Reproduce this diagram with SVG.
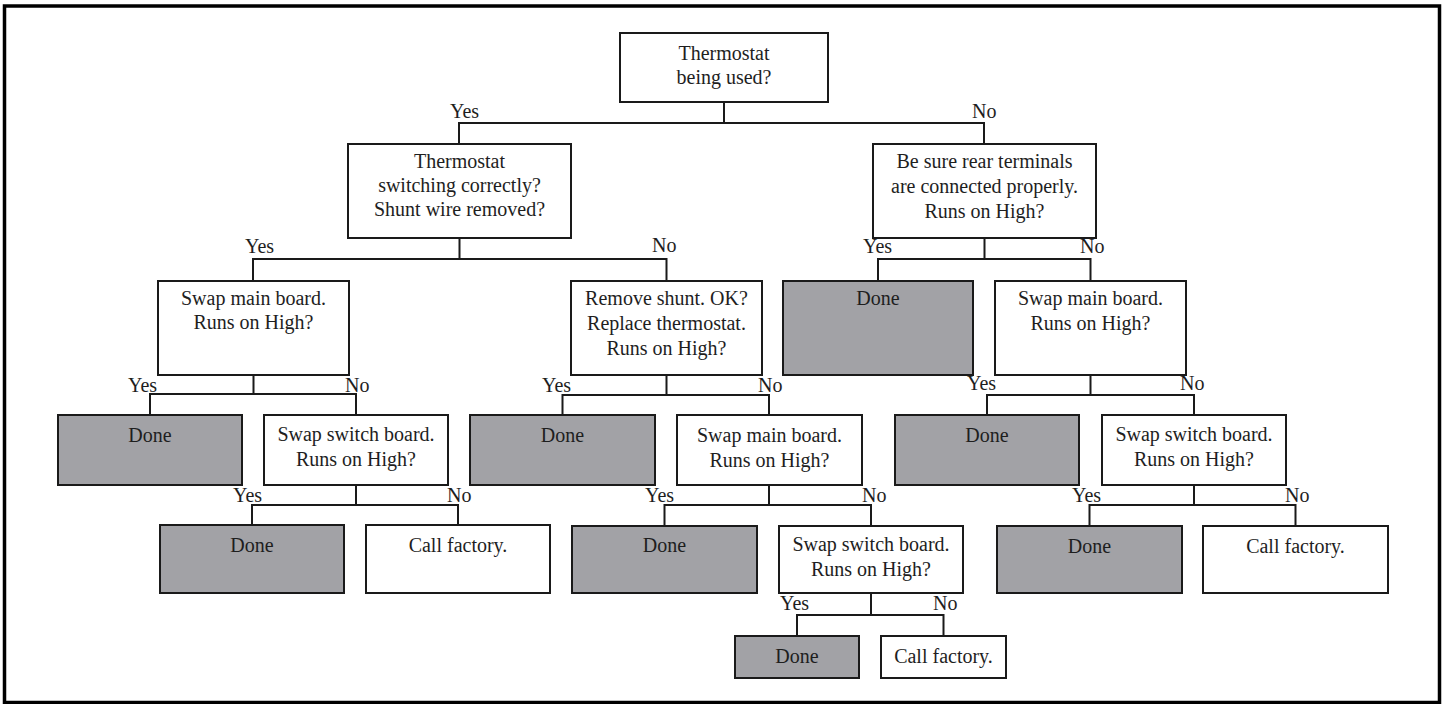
<svg xmlns="http://www.w3.org/2000/svg" width="1445" height="704" viewBox="0 0 1445 704">
<style>
.frame{fill:#fff;stroke:#000;stroke-width:3.5}
.box{fill:#fff;stroke:#1a1a1a;stroke-width:2}
.done{fill:#a2a2a6;stroke:#1a1a1a;stroke-width:2}
.t{font-family:"Liberation Serif","DejaVu Serif",serif;font-size:20px;fill:#1e1e1e;text-anchor:middle}
.lbl{font-family:"Liberation Serif","DejaVu Serif",serif;font-size:20px;fill:#1e1e1e}
.c{fill:none;stroke:#1a1a1a;stroke-width:2}
</style>
<rect class="frame" x="4.5" y="6" width="1435" height="696.5"/>
<g id="connectors">
<path class="c" d="M724 102V123M459 144V123H984V144"/>
<path class="c" d="M459.5 238V259M253 281V259H666.5V281"/>
<path class="c" d="M984.5 238V259M878 281V259H1090.5V281"/>
<path class="c" d="M253.5 375V394M150 415V394H356V415"/>
<path class="c" d="M666.5 375V395M562.5 415V395H769V415"/>
<path class="c" d="M1090.5 375V395M987 415V395H1194V415"/>
<path class="c" d="M356 485V505M252 525V505H458V525"/>
<path class="c" d="M769 485V505M664.5 526V505H871V526"/>
<path class="c" d="M1194 485V505M1089.5 526V505H1295.5V526"/>
<path class="c" d="M871 593V615M797 636V615H943.5V636"/>
</g>
<g id="labels">
<text class="lbl" x="450" y="118">Yes</text>
<text class="lbl" x="972" y="118">No</text>
<text class="lbl" x="245" y="253">Yes</text>
<text class="lbl" x="652" y="252">No</text>
<text class="lbl" x="863" y="253">Yes</text>
<text class="lbl" x="1080" y="253">No</text>
<text class="lbl" x="128" y="392">Yes</text>
<text class="lbl" x="345" y="392">No</text>
<text class="lbl" x="542" y="392">Yes</text>
<text class="lbl" x="758" y="392">No</text>
<text class="lbl" x="967" y="390">Yes</text>
<text class="lbl" x="1180" y="390">No</text>
<text class="lbl" x="233" y="502">Yes</text>
<text class="lbl" x="447" y="502">No</text>
<text class="lbl" x="645" y="502">Yes</text>
<text class="lbl" x="862" y="502">No</text>
<text class="lbl" x="1072" y="502">Yes</text>
<text class="lbl" x="1285" y="502">No</text>
<text class="lbl" x="780" y="610">Yes</text>
<text class="lbl" x="933" y="610">No</text>
</g>
<g id="n-top"><rect class="box" x="620" y="33" width="208" height="69"/><text class="t" x="724" y="60">Thermostat</text><text class="t" x="724" y="84">being used?</text></g>
<g id="n-switching"><rect class="box" x="348" y="144" width="223" height="94"/><text class="t" x="459.5" y="168">Thermostat</text><text class="t" x="459.5" y="192">switching correctly?</text><text class="t" x="459.5" y="216">Shunt wire removed?</text></g>
<g id="n-besure"><rect class="box" x="873" y="144" width="223" height="94"/><text class="t" x="984.5" y="168">Be sure rear terminals</text><text class="t" x="984.5" y="193">are connected properly.</text><text class="t" x="984.5" y="218">Runs on High?</text></g>
<g id="n-swapmain-l"><rect class="box" x="158" y="281" width="191" height="94"/><text class="t" x="253.5" y="305">Swap main board.</text><text class="t" x="253.5" y="329">Runs on High?</text></g>
<g id="n-removeshunt"><rect class="box" x="571" y="281" width="191" height="94"/><text class="t" x="666.5" y="305">Remove shunt. OK?</text><text class="t" x="666.5" y="330">Replace thermostat.</text><text class="t" x="666.5" y="355">Runs on High?</text></g>
<g id="n-done-r1"><rect class="done" x="783" y="281" width="190" height="94"/><text class="t" x="878" y="305">Done</text></g>
<g id="n-swapmain-r"><rect class="box" x="995" y="281" width="191" height="94"/><text class="t" x="1090.5" y="305">Swap main board.</text><text class="t" x="1090.5" y="330">Runs on High?</text></g>
<g id="n-done-l1"><rect class="done" x="58" y="415" width="184" height="70"/><text class="t" x="150" y="442">Done</text></g>
<g id="n-swapswitch-l"><rect class="box" x="264" y="415" width="184" height="70"/><text class="t" x="356" y="441">Swap switch board.</text><text class="t" x="356" y="466">Runs on High?</text></g>
<g id="n-done-m1"><rect class="done" x="470" y="415" width="185" height="70"/><text class="t" x="562.5" y="442">Done</text></g>
<g id="n-swapmain-m"><rect class="box" x="677" y="415" width="185" height="70"/><text class="t" x="769.5" y="442">Swap main board.</text><text class="t" x="769.5" y="467">Runs on High?</text></g>
<g id="n-done-r2"><rect class="done" x="895" y="415" width="184" height="70"/><text class="t" x="987" y="442">Done</text></g>
<g id="n-swapswitch-r"><rect class="box" x="1102" y="415" width="184" height="70"/><text class="t" x="1194" y="441">Swap switch board.</text><text class="t" x="1194" y="466">Runs on High?</text></g>
<g id="n-done-l2"><rect class="done" x="160" y="525" width="184" height="68"/><text class="t" x="252" y="552">Done</text></g>
<g id="n-call-l"><rect class="box" x="366" y="525" width="184" height="68"/><text class="t" x="458" y="552">Call factory.</text></g>
<g id="n-done-m2"><rect class="done" x="572" y="526" width="185" height="67"/><text class="t" x="664.5" y="552">Done</text></g>
<g id="n-swapswitch-m"><rect class="box" x="779" y="526" width="184" height="67"/><text class="t" x="871" y="551">Swap switch board.</text><text class="t" x="871" y="576">Runs on High?</text></g>
<g id="n-done-r3"><rect class="done" x="997" y="526" width="185" height="67"/><text class="t" x="1089.5" y="553">Done</text></g>
<g id="n-call-r"><rect class="box" x="1203" y="526" width="185" height="67"/><text class="t" x="1295.5" y="553">Call factory.</text></g>
<g id="n-done-m3"><rect class="done" x="735" y="636" width="124" height="42"/><text class="t" x="797" y="663">Done</text></g>
<g id="n-call-m"><rect class="box" x="881" y="636" width="125" height="42"/><text class="t" x="943.5" y="663">Call factory.</text></g>
</svg>
